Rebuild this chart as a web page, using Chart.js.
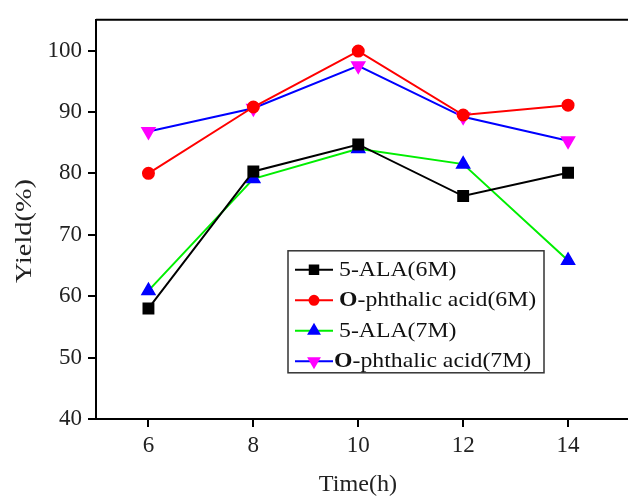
<!DOCTYPE html>
<html lang="en">
<head>
  <meta charset="UTF-8">
  <title>Yield vs Time</title>
  <script src="https://cdn.jsdelivr.net/npm/chart.js"></script>
  <style>
    html, body { margin: 0; padding: 0; background: #fff; overflow: hidden; }
  </style>
</head>
<body>
  <canvas id="yieldChart" width="640" height="497"></canvas>

  <script>
// data
const hours = [6, 8, 10, 12, 14];
const seriesNames = ['5-ALA(6M)', 'O-phthalic acid(6M)', '5-ALA(7M)', 'O-phthalic acid(7M)'];
const ala6M = [58.0, 80.3, 84.7, 76.3, 80.1];
const phthalic6M = [80.0, 90.8, 99.9, 89.5, 91.1];
const ala7M = [60.9, 79.1, 84.0, 81.5, 65.8];
const phthalic7M = [86.8, 90.6, 97.5, 89.2, 85.3];
const yTicks = [40, 50, 60, 70, 80, 90, 100];

const serif = "'Liberation Serif', 'Times New Roman', serif";

function toPoints(values) {
  return hours.map((h, i) => ({ x: h, y: values[i] }));
}

// text in the source image is a bit stretched sideways
function wideText(ctx, text, x, y, stretch) {
  ctx.save();
  ctx.translate(x, y);
  ctx.scale(stretch, 1);
  ctx.fillText(text, 0, 0);
  ctx.restore();
  return ctx.measureText(text).width * stretch;
}

// draws the frame lines on top and right
const framePlugin = {
  id: 'frame',
  afterDraw(chart) {
    const { ctx, chartArea } = chart;
    ctx.save();
    ctx.strokeStyle = '#000';
    ctx.lineWidth = 2;
    ctx.beginPath();
    ctx.moveTo(chartArea.left, chartArea.top);
    ctx.lineTo(chartArea.right, chartArea.top);
    ctx.lineTo(chartArea.right, chartArea.bottom);
    ctx.stroke();
    ctx.restore();
  }
};

// axis titles
const titlePlugin = {
  id: 'titles',
  afterDraw(chart) {
    const { ctx } = chart;
    ctx.save();
    ctx.fillStyle = '#222';
    ctx.font = '23px ' + serif;
    ctx.textAlign = 'center';
    ctx.textBaseline = 'middle';
    wideText(ctx, 'Time(h)', 358, 485, 1.05);
    ctx.translate(25, 231);
    ctx.rotate(-Math.PI / 2);
    ctx.font = '24px ' + serif;
    wideText(ctx, 'Yield(%)', 0, 0, 1.18);
    ctx.restore();
  }
};

// legend box inside the plot
const legendPlugin = {
  id: 'boxLegend',
  afterDraw(chart) {
    const { ctx, chartArea } = chart;
    const x0 = chartArea.left + 192;
    const y0 = chartArea.top + 231;
    ctx.save();
    ctx.strokeStyle = '#333';
    ctx.lineWidth = 1.5;
    ctx.strokeRect(x0, y0, 256, 122);
    chart.data.datasets.forEach((ds, i) => {
      const y = y0 + 19 + i * 30.5;
      const lx = x0 + 7;
      ctx.strokeStyle = ds.borderColor;
      ctx.lineWidth = 2;
      ctx.beginPath();
      ctx.moveTo(lx, y);
      ctx.lineTo(lx + 38, y);
      ctx.stroke();
      ctx.fillStyle = ds.pointBackgroundColor;
      ctx.strokeStyle = ds.pointBorderColor;
      Chart.helpers.drawPoint(ctx, {
        pointStyle: ds.pointStyle,
        radius: ds.pointRadius - 1,
        rotation: ds.pointRotation || 0,
        borderWidth: 1
      }, lx + 19, y);
      ctx.fillStyle = '#111';
      ctx.textBaseline = 'middle';
      ctx.textAlign = 'left';
      let tx = lx + (i === 3 ? 39 : 44);
      let label = ds.label;
      if (label.startsWith('O-')) {
        ctx.font = 'bold 22px ' + serif;
        tx += wideText(ctx, 'O', tx, y, 1.08);
        label = label.slice(1);
      }
      ctx.font = '22px ' + serif;
      wideText(ctx, label, tx, y, 1.08);
    });
    ctx.restore();
  }
};

const ctx = document.getElementById('yieldChart').getContext('2d');
const chart = new Chart(ctx, {
  type: 'line',
  data: {
    datasets: [
      {
        label: seriesNames[0],
        data: toPoints(ala6M),
        borderColor: '#000000',
        pointBackgroundColor: '#000000',
        pointBorderColor: '#000000',
        pointStyle: 'rect',
        pointRadius: 7,
        borderWidth: 2
      },
      {
        label: seriesNames[1],
        data: toPoints(phthalic6M),
        borderColor: '#ff0000',
        pointBackgroundColor: '#ff0000',
        pointBorderColor: '#ff0000',
        pointStyle: 'circle',
        pointRadius: 5.5,
        borderWidth: 2
      },
      {
        label: seriesNames[2],
        data: toPoints(ala7M),
        borderColor: '#00ee00',
        pointBackgroundColor: '#0000ff',
        pointBorderColor: '#0000ff',
        pointStyle: 'triangle',
        pointRadius: 7,
        borderWidth: 2
      },
      {
        label: seriesNames[3],
        data: toPoints(phthalic7M),
        borderColor: '#0000ff',
        pointBackgroundColor: '#ff00ff',
        pointBorderColor: '#ff00ff',
        pointStyle: 'triangle',
        pointRotation: 180,
        pointRadius: 7,
        borderWidth: 2
      }
    ]
  },
  options: {
    responsive: false,
    animation: false,
    layout: { padding: { top: 15, right: 9, left: 0, bottom: 0 } },
    plugins: {
      legend: { display: false },
      tooltip: { enabled: false }
    },
    scales: {
      x: {
        type: 'linear',
        min: 5,
        max: 15.2,
        afterFit(scale) { scale.height = 78; },
        afterBuildTicks(scale) { scale.ticks = hours.map(v => ({ value: v })); },
        border: { display: true, color: '#000', width: 2 },
        grid: { drawOnChartArea: false, drawTicks: true, tickLength: 8, color: '#000', lineWidth: 2 },
        ticks: { color: '#222', padding: 5, font: { family: serif, size: 23 } }
      },
      y: {
        min: 40,
        max: 105,
        afterFit(scale) { scale.width = 96; },
        afterBuildTicks(scale) { scale.ticks = yTicks.map(v => ({ value: v })); },
        border: { display: true, color: '#000', width: 2 },
        grid: { drawOnChartArea: false, drawTicks: true, tickLength: 8, color: '#000', lineWidth: 2 },
        ticks: { color: '#222', padding: 6, font: { family: serif, size: 23 } }
      }
    }
  },
  plugins: [framePlugin, titlePlugin, legendPlugin]
});
  </script>
</body>
</html>
